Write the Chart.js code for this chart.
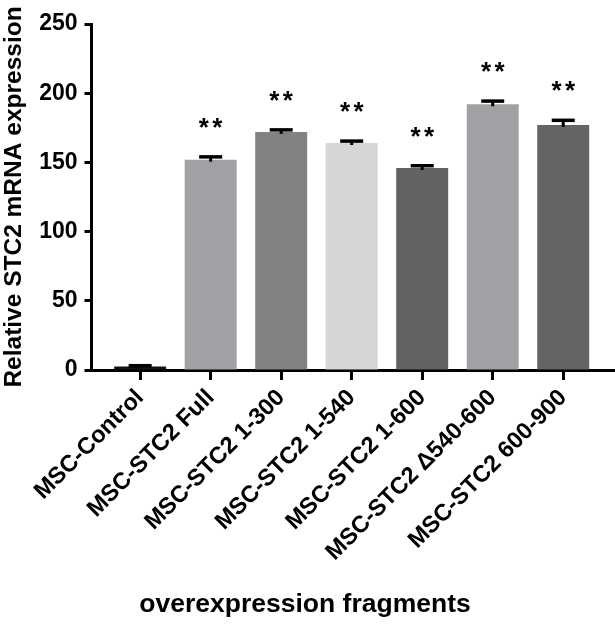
<!DOCTYPE html>
<html>
<head>
<meta charset="utf-8">
<script src="https://cdn.jsdelivr.net/npm/chart.js@4/dist/chart.umd.min.js"></script>
<style>
  body { margin: 0; background: #fff; }
  canvas { display: block; }
</style>
</head>
<body>
<canvas id="grafikon" width="615" height="624"></canvas>
<script>
// data
var kategorije = ["MSC-Control", "MSC-STC2 Full", "MSC-STC2 1-300", "MSC-STC2 1-540",
                  "MSC-STC2 1-600", "MSC-STC2 \u0394540-600", "MSC-STC2 600-900"];
var srednje = [2.5, 152, 172, 164, 146, 192, 177];
var greske = [0.6, 2.0, 1.5, 1.4, 1.6, 2.3, 3.4];
var zvjezdice = ["", "**", "**", "**", "**", "**", "**"];
var boje = ["#141414", "#a1a1a5", "#828282", "#d6d6d6", "#626262", "#a1a1a5", "#646464"];
var yTicks = [0, 50, 100, 150, 200, 250];

var font = "'Liberation Sans', Arial, sans-serif";

var tocke = [];
for (let i = 0; i < kategorije.length; i++) {
    tocke.push({x: i, y: srednje[i]});
}

// error bars + asterisks
var errorPlugin = {
    id: "errorBars",
    afterDatasetsDraw: function (chart) {
        var ctx = chart.ctx;
        var xs = chart.scales.x, ys = chart.scales.y;
        ctx.save();
        ctx.strokeStyle = "#000";
        ctx.fillStyle = "#000";
        for (let i = 0; i < srednje.length; i++) {
            var x = xs.getPixelForValue(i);
            var yTop = ys.getPixelForValue(srednje[i] + greske[i]);
            var yMid = ys.getPixelForValue(srednje[i]);
            ctx.lineWidth = 3;
            ctx.beginPath();
            ctx.moveTo(x, yMid + 2);
            ctx.lineTo(x, yTop);
            ctx.stroke();
            ctx.lineWidth = 3.5;
            ctx.beginPath();
            ctx.moveTo(x - 11.5, yTop);
            ctx.lineTo(x + 11.5, yTop);
            ctx.stroke();

            if (zvjezdice[i]) {
                ctx.font = "bold 26px " + font;
                ctx.textAlign = "center";
                ctx.textBaseline = "alphabetic";
                var m = ctx.measureText("*");
                var cy = yTop - 34;
                var base = cy + (m.actualBoundingBoxAscent - m.actualBoundingBoxDescent) / 2;
                var n = zvjezdice[i].length;
                for (let k = 0; k < n; k++) {
                    ctx.fillText("*", x + (k - (n - 1) / 2) * 13.5, base);
                }
            }
        }
        ctx.restore();
    },
    afterDraw: function (chart) {
        var ctx = chart.ctx;
        ctx.save();
        ctx.fillStyle = "#000";
        ctx.font = "bold 26.5px " + font;
        ctx.textAlign = "center";
        ctx.textBaseline = "alphabetic";
        ctx.fillText("overexpression fragments", 305, 611.5);
        ctx.restore();
    }
};

new Chart("grafikon", {
    type: "bar",
    data: {
        datasets: [{
            data: tocke,
            backgroundColor: boje,
            borderWidth: 0,
            barPercentage: 0.737,
            categoryPercentage: 1
        }]
    },
    plugins: [errorPlugin],
    options: {
        responsive: false,
        animation: false,
        layout: {padding: {top: 24, right: 1, left: 0, bottom: 0}},
        plugins: {
            legend: {display: false},
            tooltip: {enabled: false}
        },
        scales: {
            x: {
                type: "linear",
                offset: false,
                min: -0.69,
                max: 6.72,
                afterBuildTicks: function (axis) {
                    axis.ticks = kategorije.map(function (c, i) { return {value: i}; });
                },
                afterFit: function (axis) {
                    axis.height = 254;
                    axis.paddingLeft = 0;
                    axis.paddingRight = 0;
                },
                ticks: {
                    autoSkip: false,
                    minRotation: 45,
                    maxRotation: 45,
                    padding: 4,
                    color: "#000",
                    font: {family: font, size: 23.5, weight: "bold"},
                    callback: function (v) { return kategorije[v]; }
                },
                grid: {
                    display: true,
                    offset: false,
                    drawOnChartArea: false,
                    drawTicks: true,
                    tickLength: 10,
                    tickWidth: 3,
                    tickColor: "#000"
                },
                border: {display: true, color: "#000", width: 3}
            },
            y: {
                min: 0,
                max: 250,
                afterBuildTicks: function (axis) {
                    axis.ticks = yTicks.map(function (v) { return {value: v}; });
                },
                afterFit: function (axis) {
                    axis.width = 91.5;
                    axis.paddingTop = 0;
                    axis.paddingBottom = 0;
                },
                ticks: {
                    padding: 7,
                    color: "#000",
                    font: {family: font, size: 23, weight: "bold"}
                },
                grid: {
                    display: true,
                    drawOnChartArea: false,
                    drawTicks: true,
                    tickLength: 7,
                    tickWidth: 3,
                    tickColor: "#000"
                },
                border: {display: true, color: "#000", width: 3},
                title: {
                    display: true,
                    text: "Relative STC2 mRNA expression",
                    color: "#000",
                    padding: 0,
                    font: {family: font, size: 24.5, weight: "bold"}
                }
            }
        }
    }
});
</script>
</body>
</html>
